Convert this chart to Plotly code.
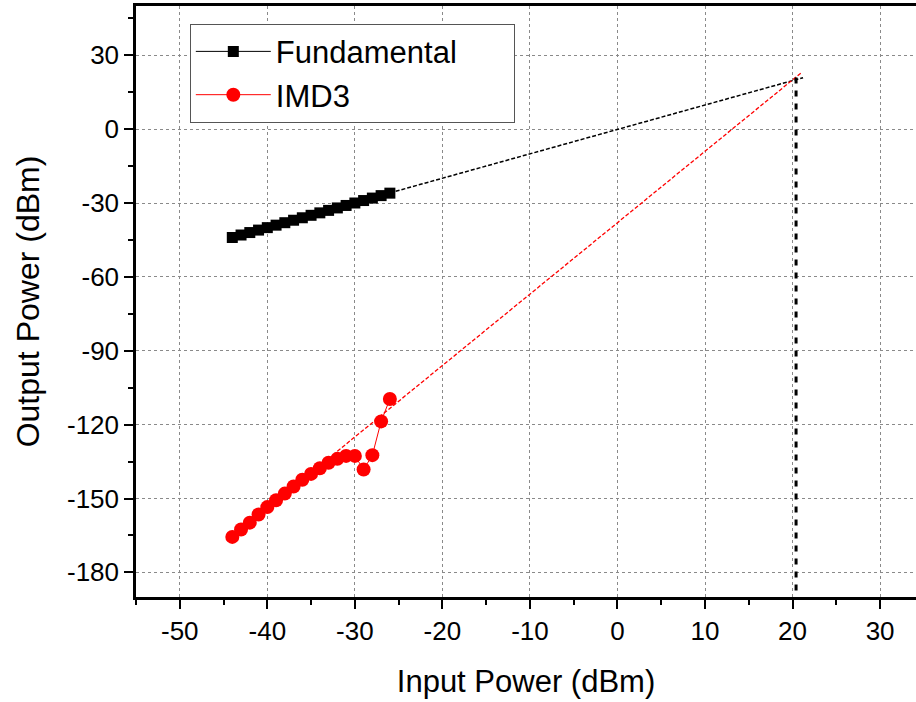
import plotly.graph_objects as go

# Data
pin = [-44, -43, -42, -41, -40, -39, -38, -37, -36, -35, -34, -33, -32, -31, -30, -29, -28, -27, -26]
fund = [-44, -43, -42, -41, -40, -39, -38, -37, -36, -35, -34, -33, -32, -31, -30, -29, -28, -27, -26]
imd3 = [-165.6, -162.6, -159.8, -156.5, -153.5, -150.7, -148.0, -145.1, -142.4, -140.0,
        -137.7, -135.5, -133.9, -132.7, -132.7, -138.2, -132.4, -118.7, -109.6]

fund_fit_x = [-26, 21.2]
fund_fit_y = [-25.9, 20.9]
imd3_fit_x = [-32, 21.1]
imd3_fit_y = [-130.8, 23.2]
oip3_x = [20.4, 20.4]
oip3_y = [21.0, -190]

xticks = [-50, -40, -30, -20, -10, 0, 10, 20, 30]
yticks = [30, 0, -30, -60, -90, -120, -150, -180]

FONT = "Liberation Sans, Arial, sans-serif"

fig = go.Figure()

fig.add_trace(go.Scatter(x=fund_fit_x, y=fund_fit_y, mode="lines",
                         line=dict(color="black", width=1.5, dash="4px,2px"),
                         showlegend=False, hoverinfo="skip"))
fig.add_trace(go.Scatter(x=imd3_fit_x, y=imd3_fit_y, mode="lines",
                         line=dict(color="red", width=1.3, dash="4px,2px"),
                         showlegend=False, hoverinfo="skip"))
fig.add_trace(go.Scatter(x=oip3_x, y=oip3_y, mode="lines",
                         line=dict(color="black", width=3, dash="6px,7px"),
                         showlegend=False, hoverinfo="skip"))

fig.add_trace(go.Scatter(x=pin, y=fund, mode="lines+markers", name="Fundamental      ",
                         line=dict(color="black", width=1),
                         marker=dict(symbol="square", size=11, color="black")))
fig.add_trace(go.Scatter(x=pin, y=imd3, mode="lines+markers", name="IMD3",
                         line=dict(color="red", width=1),
                         marker=dict(symbol="circle", size=14, color="red")))

fig.update_layout(
    width=916, height=702,
    margin=dict(l=136, r=0, t=6, b=105),
    plot_bgcolor="white", paper_bgcolor="white",
    font=dict(family=FONT, size=26, color="black"),
    legend=dict(x=0.069, y=0.97, xanchor="left", yanchor="top",
                bgcolor="white", bordercolor="#555555", borderwidth=1,
                font=dict(size=31, family=FONT), itemwidth=75,
                tracegroupgap=0),
    showlegend=True,
)

fig.update_xaxes(
    range=[-55, 34.1], tickvals=xticks, ticktext=[str(v) for v in xticks],
    showline=True, linecolor="black", linewidth=2.5, mirror=True,
    ticks="outside", ticklen=9, tickwidth=2, tickcolor="black",
    minor=dict(dtick=5, tick0=-55, ticks="outside", ticklen=5, tickwidth=2, tickcolor="black", showgrid=False),
    showgrid=True, gridcolor="#8a8a8a", gridwidth=1, griddash="dot",
    zeroline=False, automargin=False,
    title=dict(text="Input Power (dBm)", font=dict(size=31, family=FONT), standoff=26),
    tickfont=dict(size=26, family=FONT),
)
fig.update_yaxes(
    range=[-190, 50], tickvals=yticks, ticktext=[str(v) for v in yticks],
    showline=True, linecolor="black", linewidth=2.5, mirror=False,
    ticks="outside", ticklen=9, tickwidth=2, tickcolor="black",
    minor=dict(dtick=15, tick0=-195, ticks="outside", ticklen=5, tickwidth=2, tickcolor="black", showgrid=False),
    showgrid=True, gridcolor="#8a8a8a", gridwidth=1, griddash="dot",
    zeroline=False, automargin=False,
    title=dict(text="Output Power (dBm)", font=dict(size=32, family=FONT), standoff=18),
    tickfont=dict(size=26, family=FONT),
)

fig.write_html("out.html", config={"displayModeBar": False},
               post_script="document.body.style.margin='0';")
